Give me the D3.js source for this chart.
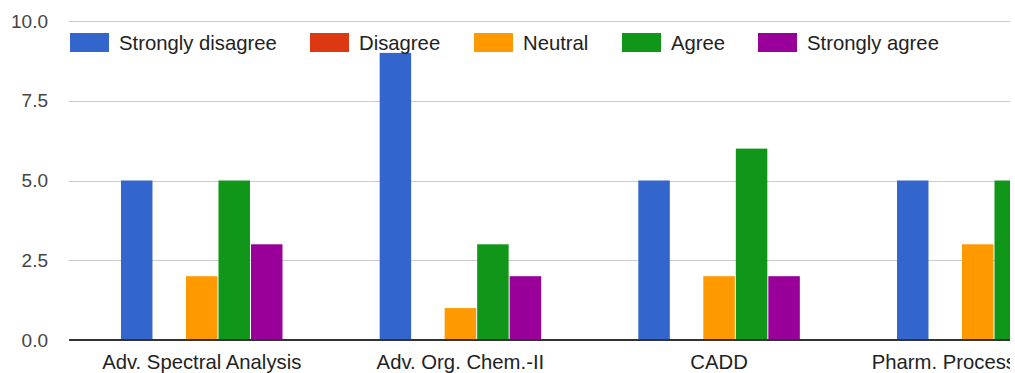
<!DOCTYPE html>
<html>
<head>
<meta charset="utf-8">
<script src="https://cdn.jsdelivr.net/npm/d3@7"></script>
<style>
  html, body { margin: 0; padding: 0; background: #fff; overflow: hidden; }
  svg { display: block; font-family: Arial, "Liberation Sans", sans-serif; }
</style>
</head>
<body>
<svg id="chart" width="1015" height="373"></svg>
<script>
const categories = ["Adv. Spectral Analysis", "Adv. Org. Chem.-II", "CADD", "Pharm. Process"];
const seriesNames = ["Strongly disagree", "Disagree", "Neutral", "Agree", "Strongly agree"];
const seriesColors = ["#3366cc", "#dc3912", "#ff9900", "#109618", "#990099"];
const stronglyDisagree = [5, 9, 5, 5];
const disagree = [0, 0, 0, 0];
const neutral = [2, 1, 2, 3];
const agree = [5, 3, 6, 5];
const stronglyAgree = [3, 2, 2, null];
const yTicks = [0, 2.5, 5, 7.5, 10];

const seriesValues = [stronglyDisagree, disagree, neutral, agree, stronglyAgree];

const svg = d3.select("#chart");
const plotLeft = 69, plotRight = 1010, yTop = 21, yBottom = 340;

svg.append("defs").append("clipPath").attr("id", "clip")
  .append("rect").attr("x", 0).attr("y", 0).attr("width", plotRight).attr("height", 373);

const y = d3.scaleLinear().domain([0, 10]).range([yBottom, yTop]);
const step = 258.67;
const x0 = d3.scaleBand().domain(categories).range([72.4, 72.4 + step * categories.length]).padding(0);
const groupW = 161.5;
const x1 = d3.scaleBand().domain(seriesNames).range([0, groupW]).paddingInner(0.031).paddingOuter(0);

const g = svg.append("g").attr("clip-path", "url(#clip)");

// gridlines
g.selectAll("line.grid").data(yTicks.filter(d => d !== 0)).join("line")
  .attr("x1", plotLeft).attr("x2", plotRight)
  .attr("y1", d => Math.round(y(d)) + 0.5).attr("y2", d => Math.round(y(d)) + 0.5)
  .attr("stroke", "#cccccc").attr("stroke-width", 1);

// y tick labels
svg.selectAll("text.ytick").data(yTicks).join("text")
  .attr("x", 48).attr("y", d => y(d))
  .attr("text-anchor", "end").attr("dominant-baseline", "central")
  .attr("font-size", 19).attr("fill", "#444")
  .text(d => d3.format(".1f")(d));

// bars
const groups = g.selectAll("g.cat").data(categories).join("g")
  .attr("transform", c => `translate(${x0(c) + (x0.bandwidth() - groupW) / 2},0)`);
groups.selectAll("rect").data((c, i) => seriesNames.map((s, j) => ({ s, j, v: seriesValues[j][i] })).filter(d => d.v != null && d.v > 0))
  .join("rect")
  .attr("x", d => x1(d.s)).attr("width", x1.bandwidth())
  .attr("y", d => y(d.v)).attr("height", d => y(0) - y(d.v))
  .attr("fill", d => seriesColors[d.j]);

// baseline
g.append("line").attr("x1", plotLeft).attr("x2", plotRight)
  .attr("y1", y(0)).attr("y2", y(0)).attr("stroke", "#333").attr("stroke-width", 2);

// category labels
g.selectAll("text.cat").data(categories).join("text")
  .attr("x", c => x0(c) + x0.bandwidth() / 2).attr("y", 369)
  .attr("text-anchor", "middle").attr("font-size", 20.3).attr("fill", "#222")
  .text(c => c)
  .each(function () {
    const w = this.getComputedTextLength();
    const cx = +this.getAttribute("x");
    if (cx + w / 2 > 1015) {
      d3.select(this).attr("text-anchor", "end").attr("x", 1016);
    }
  });

// legend
const legendX = [70, 310, 474, 622, 758];
const leg = svg.selectAll("g.leg").data(seriesNames).join("g")
  .attr("transform", (d, i) => `translate(${legendX[i]},33)`);
leg.append("rect").attr("width", 39).attr("height", 19).attr("fill", (d, i) => seriesColors[i]);
leg.append("text").attr("x", 49).attr("y", 9.5).attr("dominant-baseline", "central")
  .attr("font-size", 20.3).attr("fill", "#222").text(d => d);
</script>
</body>
</html>
